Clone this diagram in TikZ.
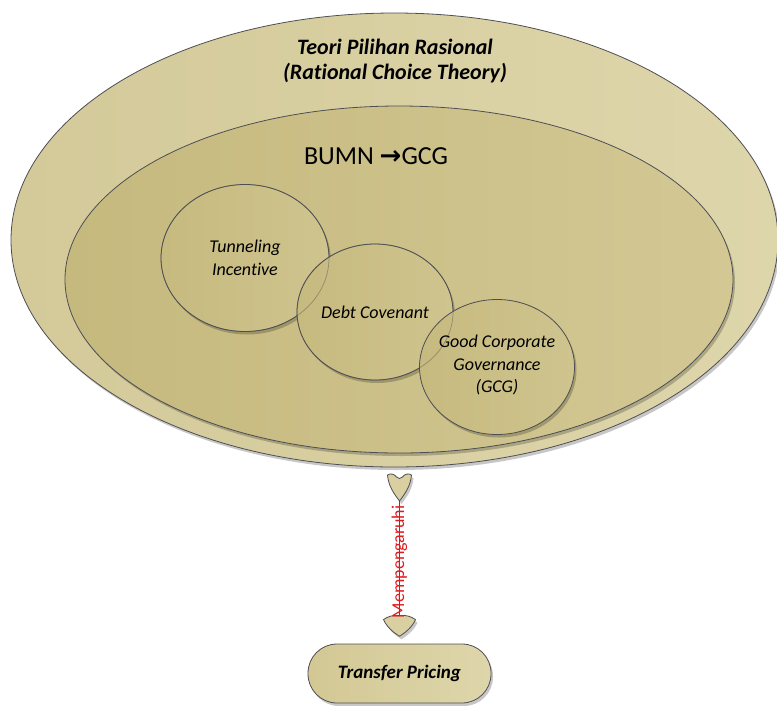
\documentclass[tikz,border=0pt]{standalone}
\usepackage{fontspec}
\setmainfont[Ligatures=NoCommon]{Carlito}
\newfontfamily\symfont{DejaVu Sans}
\usetikzlibrary{shapes.geometric,shadows,calc}
\definecolor{outA}{RGB}{211,201,153}
\definecolor{outB}{RGB}{222,214,171}
\definecolor{inA}{RGB}{197,185,126}
\definecolor{inB}{RGB}{211,200,148}
\definecolor{cirA}{RGB}{198,186,127}
\definecolor{cirB}{RGB}{207,196,142}
\definecolor{edgec}{RGB}{78,78,84}
\definecolor{connc}{RGB}{217,207,160}
\definecolor{lblred}{RGB}{222,28,32}
\begin{document}
\begin{tikzpicture}[x=1pt,y=-1pt,
  shad/.style={drop shadow={shadow xshift=2pt,shadow yshift=-3pt,opacity=0.22,fill=black}},
  blob/.style={ellipse,draw=edgec,line width=0.8pt,inner sep=0pt,outer sep=0pt,shad},
  circ/.style={blob,left color=cirA,right color=cirB},
  ring/.style={ellipse,draw=edgec,line width=0.7pt,draw opacity=0.45,inner sep=0pt,outer sep=0pt},
  ctext/.style={align=center,font=\fontsize{18}{22.5}\selectfont\itshape,text=black},
  conline/.style={draw=edgec,line width=1.4pt},
  connshape/.style={draw=edgec,line width=0.8pt,fill=connc,shad,line join=round}
]
\useasboundingbox (0,0) rectangle (777,705);
\clip (0,0) rectangle (777,705);

% containers
\node[blob,left color=outA,right color=outB,minimum width=767pt,minimum height=454pt] (outer) at (394.5,240) {};
\node[blob,left color=inA,right color=inB,minimum width=668pt,minimum height=347pt] (inner) at (399,279.5) {};

% texts of containers
\node[align=center,font=\fontsize{22}{25}\selectfont\bfseries\itshape] (title) at (395,61) {Teori Pilihan Rasional\\\bfseries\itshape(Rational Choice Theory)};
\node[font=\fontsize{26}{30}\selectfont] (bumn) at (376,156) {BUMN {\symfont\bfseries →}GCG};

% circles
\node[circ,minimum width=168pt,minimum height=147pt] (tun) at (245,258) {};
\node[circ,minimum width=156pt,minimum height=136pt] (debt) at (375,312) {};
\node[circ,minimum width=155pt,minimum height=135pt] (gcg) at (497,367) {};
\node[ring,minimum width=168pt,minimum height=147pt] (tunr) at (tun.center) {};
\node[ring,minimum width=156pt,minimum height=136pt] (debtr) at (debt.center) {};
\node[ctext] (tunt) at (tun.center) {\itshape Tunneling\\\itshape Incentive};
\node[ctext] (debtt) at (debt.center) {\itshape Debt Covenant};
\node[ctext] (gcgt) at ([yshift=2pt]gcg.center) {\itshape Good Corporate\\\itshape Governance\\\itshape (GCG)};

% target
\node[draw=edgec,line width=0.8pt,rounded corners=29pt,minimum width=183pt,minimum height=59pt,
      left color=inB,right color=outB,shad,
      font=\fontsize{19}{22}\selectfont\bfseries\itshape] (tp) at (399.5,673.5) {Transfer Pricing};

% connector
\coordinate (t1) at ($(tp.north |- outer.south)+(0,7)$);
\coordinate (t2) at ($(tp.north)+(0,-28)$);
\draw[conline] ($(t1)+(0,26)$) -- ($(t2)+(0,1)$);
\begin{scope}[shift={(t1)}]
  \path[connshape] (-12,1) .. controls (-9,-1) and (-5,0) .. (-3,3)
     .. controls (-1,5) and (1,5) .. (3,3)
     .. controls (5,0) and (9,-1) .. (12,1)
     .. controls (11,12) and (6,19) .. (0,27)
     .. controls (-6,19) and (-11,12) .. (-12,1) -- cycle;
\end{scope}
\begin{scope}[shift={(t2)}]
  \path[connshape] (-16,4) .. controls (-12,1) and (-6,-1) .. (0,0)
     .. controls (6,-1) and (12,1) .. (16,4)
     .. controls (13,11) and (6,17) .. (1,20)
     .. controls (0,21) and (0,21) .. (-1,20)
     .. controls (-6,17) and (-13,11) .. (-16,4) -- cycle;
\end{scope}
\node[rotate=90,text=lblred,font=\fontsize{18}{18}\selectfont,inner sep=0pt] (lbl) at ($(t1)!0.62!(t2)$) {Mempengaruhi};
\end{tikzpicture}
\end{document}
